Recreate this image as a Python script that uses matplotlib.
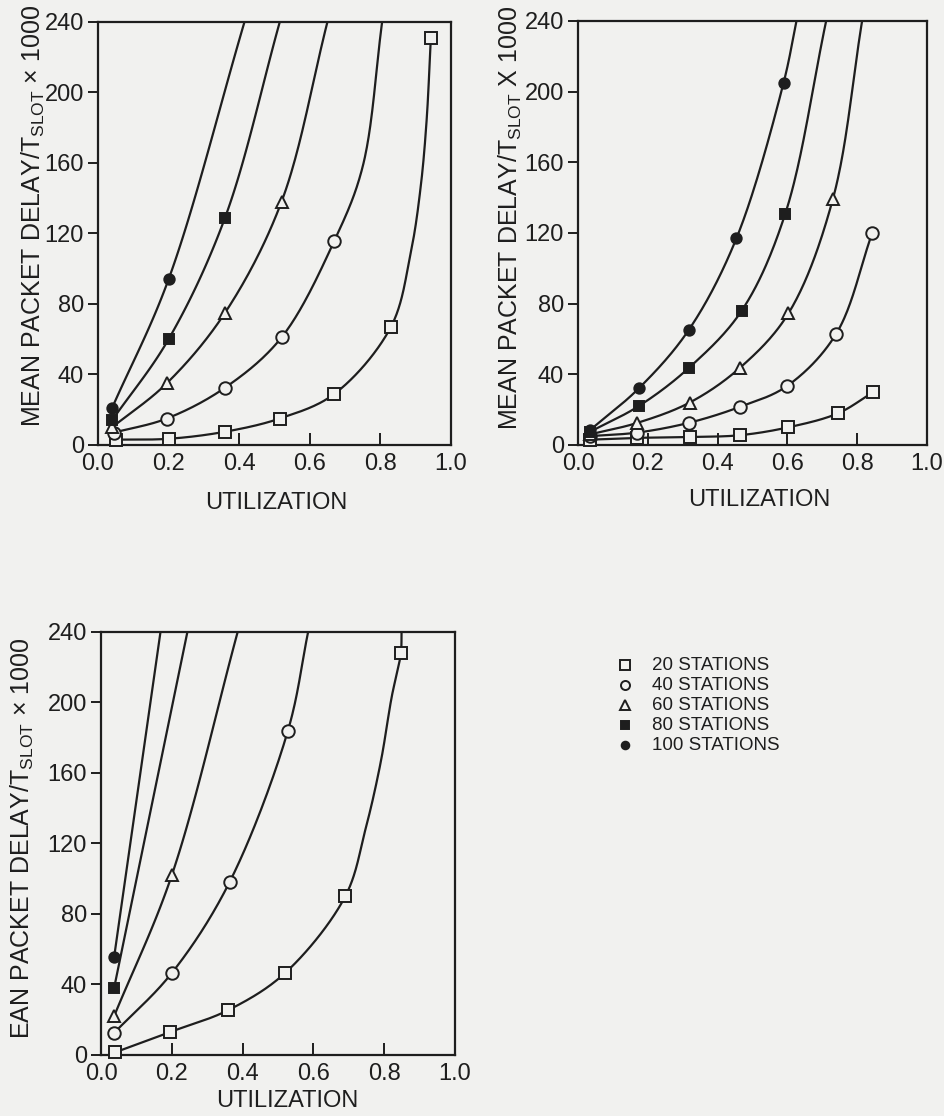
"""Mean packet delay vs utilization for 20..100 stations, three panels."""

import matplotlib
matplotlib.use("Agg")
import matplotlib.pyplot as plt
import numpy as np

PAPER = "#f1f1ef"
INK = "#1e1e1e"

stations = [20, 40, 60, 80, 100]
legend_labels = [f"{n} STATIONS" for n in stations]
marker_shapes = ["s", "o", "^", "s", "o"]
marker_filled = [False, False, False, True, True]

# --- top-left panel -------------------------------------------------------
tl_util = [
    [0.05, 0.20, 0.36, 0.515, 0.67, 0.83, 0.943],
    [0.045, 0.195, 0.36, 0.52, 0.67],
    [0.04, 0.195, 0.36, 0.52],
    [0.04, 0.20, 0.36],
    [0.04, 0.20],
]
tl_delay = [
    [3, 3.5, 7.5, 15, 29, 67, 231],
    [7, 15, 32.5, 61, 116],
    [10, 35, 75, 138],
    [14, 60, 129],
    [21, 94],
]
tl_exit = [None, 0.805, 0.65, 0.515, 0.415]
tl_bend_x = [[0.886, 0.914, 0.931], [0.75], [], [], []]
tl_bend_y = [[109, 146, 184], [158], [], [], []]

# --- top-right panel ------------------------------------------------------
tr_util = [
    [0.035, 0.17, 0.32, 0.463, 0.603, 0.746, 0.846],
    [0.035, 0.17, 0.317, 0.463, 0.60, 0.74, 0.843],
    [0.035, 0.17, 0.32, 0.463, 0.603, 0.73],
    [0.035, 0.174, 0.317, 0.469, 0.594],
    [0.035, 0.174, 0.317, 0.454, 0.589],
]
tr_delay = [
    [3, 4, 4.5, 5.5, 10, 18, 30],
    [5, 7, 12.5, 21.5, 33.5, 63, 120],
    [6, 12.5, 24, 43.5, 74.5, 139],
    [7.5, 22, 43.5, 76, 131],
    [8.5, 32, 65, 117, 205],
]
tr_exit = [None, None, 0.814, 0.711, 0.626]
tr_bend_x = [[], [], [], [], []]
tr_bend_y = [[], [], [], [], []]

# --- bottom-left panel ----------------------------------------------------
bl_util = [
    [0.04, 0.195, 0.36, 0.52, 0.69, 0.847],
    [0.037, 0.20, 0.363, 0.528],
    [0.037, 0.20],
    [0.037],
    [0.037],
]
bl_delay = [
    [1.5, 13, 25.5, 46.5, 90, 228],
    [12.5, 46.5, 98, 184],
    [22, 102],
    [38],
    [55.5],
]
bl_exit = [0.849, 0.585, 0.386, 0.244, 0.168]
bl_bend_x = [[0.747, 0.79, 0.821], [], [], [], []]
bl_bend_y = [[128, 166, 203], [], [], [], []]

Y_TOP = 240
x_ticks = [0.0, 0.2, 0.4, 0.6, 0.8, 1.0]
y_ticks = [0, 40, 80, 120, 160, 200, 240]

plt.rcParams["font.family"] = ["Liberation Sans", "DejaVu Sans"]
plt.rcParams["mathtext.fontset"] = "custom"
plt.rcParams["mathtext.rm"] = "Liberation Sans"
plt.rcParams["mathtext.default"] = "regular"


def smooth(xs, ys, aspect, n=40):
    """Centripetal Catmull-Rom through the read-off knots (drawing only)."""
    pts = np.column_stack([np.asarray(xs, float),
                           np.asarray(ys, float) / Y_TOP * aspect])
    if len(pts) < 3:
        return pts[:, 0], pts[:, 1] * Y_TOP / aspect
    ext = np.vstack([2 * pts[0] - pts[1], pts, 2 * pts[-1] - pts[-2]])
    out = []
    for i in range(len(ext) - 3):
        p0, p1, p2, p3 = ext[i:i + 4]
        t0 = 0.0
        t1 = t0 + np.linalg.norm(p1 - p0) ** 0.5
        t2 = t1 + np.linalg.norm(p2 - p1) ** 0.5
        t3 = t2 + np.linalg.norm(p3 - p2) ** 0.5
        t = np.linspace(t1, t2, n)[:, None]
        a1 = (t1 - t) / (t1 - t0) * p0 + (t - t0) / (t1 - t0) * p1
        a2 = (t2 - t) / (t2 - t1) * p1 + (t - t1) / (t2 - t1) * p2
        a3 = (t3 - t) / (t3 - t2) * p2 + (t - t2) / (t3 - t2) * p3
        b1 = (t2 - t) / (t2 - t0) * a1 + (t - t0) / (t2 - t0) * a2
        b2 = (t3 - t) / (t3 - t1) * a2 + (t - t1) / (t3 - t1) * a3
        out.append((t2 - t) / (t2 - t1) * b1 + (t - t1) / (t2 - t1) * b2)
    c = np.vstack(out)
    return c[:, 0], c[:, 1] * Y_TOP / aspect


def marker_style(i, size):
    return dict(
        linestyle="none", marker=marker_shapes[i], markersize=size,
        markerfacecolor=INK if marker_filled[i] else PAPER,
        markeredgecolor=INK, markeredgewidth=1.4,
    )


def draw_panel(ax, util, delay, exits, bend_x, bend_y, ylabel, label_x, label_y, xlabel_pos):
    ax.set_facecolor(PAPER)
    aspect = ax.get_position().height * fig.get_figheight() / (
        ax.get_position().width * fig.get_figwidth())
    for i in range(len(stations)):
        kx = list(util[i]) + list(bend_x[i])
        ky = list(delay[i]) + list(bend_y[i])
        if exits[i] is not None:
            kx.append(exits[i])
            ky.append(Y_TOP)
        order = np.argsort(kx)
        lx, ly = smooth(np.array(kx)[order], np.array(ky)[order], aspect)
        ax.plot(lx, ly, color=INK, lw=1.6, zorder=2, solid_capstyle="round")
        size = 9 if not marker_filled[i] else 7.5
        ax.plot(util[i], delay[i], zorder=3, clip_on=False, **marker_style(i, size))

    ax.set_xlim(0, 1.0)
    ax.set_ylim(0, Y_TOP)
    ax.set_xticks(x_ticks)
    ax.set_xticklabels([f"{v:.1f}" for v in x_ticks])
    ax.set_yticks(y_ticks)
    ax.tick_params(axis="y", direction="out", length=7, width=1.4,
                   pad=3, labelsize=17, colors=INK)
    ax.tick_params(axis="x", direction="in", length=8.5, width=1.4,
                   pad=6, labelsize=17, colors=INK)
    for sp in ax.spines.values():
        sp.set_linewidth(1.6)
        sp.set_color(INK)
    ax.text(label_x, label_y, ylabel, rotation=90, ha="center", va="center",
            fontsize=18, color=INK, transform=ax.transAxes)
    ax.text(xlabel_pos[0], xlabel_pos[1], "UTILIZATION", ha="center", va="center",
            fontsize=17, color=INK, transform=ax.transAxes)


fig = plt.figure(figsize=(9.44, 11.16), dpi=100, facecolor=PAPER)
ax_tl = fig.add_axes([0.1038, 0.6013, 0.3739, 0.3790])
ax_tr = fig.add_axes([0.6123, 0.6013, 0.3697, 0.3799])
ax_bl = fig.add_axes([0.1070, 0.0547, 0.3750, 0.3790])

draw_panel(ax_tl, tl_util, tl_delay, tl_exit, tl_bend_x, tl_bend_y,
           r"MEAN PACKET DELAY/$T_{SLOT}$ × 1000", -0.184, 0.541, (0.504, -0.137))
draw_panel(ax_tr, tr_util, tr_delay, tr_exit, tr_bend_x, tr_bend_y,
           r"MEAN PACKET DELAY/$T_{SLOT}$ X 1000", -0.195, 0.535, (0.52, -0.13))
draw_panel(ax_bl, bl_util, bl_delay, bl_exit, bl_bend_x, bl_bend_y,
           r"EAN PACKET DELAY/$T_{SLOT}$ × 1000", -0.222, 0.513, (0.525, -0.108))

# legend block to the right of the bottom panel
leg = fig.add_axes([615 / 944, 1 - 755 / 1116, 230 / 944, 100 / 1116])
leg.set_xlim(0, 1)
leg.set_ylim(-len(stations) + 0.5, 0.5)
leg.axis("off")
for i, label in enumerate(legend_labels):
    size = 6.5 if not marker_filled[i] else 5.5
    leg.plot(0.045, -i, clip_on=False, **marker_style(i, size))
    leg.text(0.16, -i, label, ha="left", va="center", fontsize=13.5, color=INK)

fig.savefig("out.png", dpi=100, facecolor=PAPER)
